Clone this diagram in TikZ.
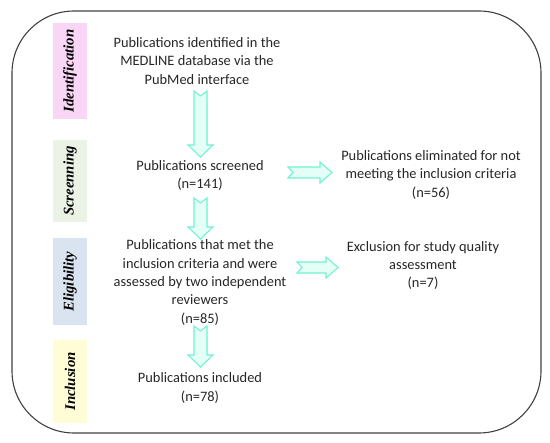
\documentclass[tikz,border=0pt]{standalone}
\usepackage{fontspec}
\setmainfont{Carlito}
\newfontfamily\labfont{Liberation Serif}
\usetikzlibrary{shapes.arrows}
\definecolor{arrfill}{HTML}{E4FFF6}
\definecolor{arrdraw}{HTML}{72F2D2}
\definecolor{pinkc}{HTML}{FAD6F6}
\definecolor{greenc}{HTML}{EBF3E6}
\definecolor{bluec}{HTML}{DAE4F0}
\definecolor{yellowc}{HTML}{FFFCD6}
\definecolor{framec}{HTML}{404040}
\tikzset{
  txt/.style={align=center, font=\fontsize{14.4}{18.3}\selectfont, text=black!85, inner sep=0pt},
  phaselab/.style={rotate=90, font=\labfont\bfseries\itshape\fontsize{14.8}{15}\selectfont},
  flowarrow/.style={fill=arrfill, draw=arrdraw, line width=1.1pt, line join=miter}
}
\begin{document}
\begin{tikzpicture}[x=1pt,y=-1pt]
\useasboundingbox (0,0) rectangle (550,443);
% frame
\draw[framec, line width=1.1pt, rounded corners=62pt] (12,11) rectangle (541,433);
% phase boxes
\fill[pinkc] (53,23) rectangle (87,119);
\node[phaselab] (lid) at (70,71) {Identification};
\fill[greenc] (53,140) rectangle (87,222);
\node[phaselab] (lsc) at (70,181) {Screenning};
\fill[bluec] (53,238) rectangle (87,325);
\node[phaselab] (lel) at (70,281.5) {Eligibility};
\fill[yellowc] (53,340) rectangle (87,423);
\node[phaselab] (lin) at (70,381.5) {Inclusion};
% texts
\node[txt] (t1) at (197,61) {Publications identified in the\\MEDLINE database via the\\PubMed interface};
\node[txt] (t2) at (200,175.5) {Publications screened\\(n=141)};
\node[txt] (t3) at (200,282.5) {Publications that met the\\inclusion criteria and were\\assessed by two independent\\reviewers\\(n=85)};
\node[txt] (t4) at (200,388) {Publications included\\(n=78)};
\node[txt] (r1) at (431,175) {Publications eliminated for not\\meeting the inclusion criteria\\(n=56)};
\node[txt] (r2) at (423,265.5) {Exclusion for study quality\\assessment\\(n=7)};
% arrows (notched, drawn as polygons)
\draw[flowarrow] (194,91) -- (200.5,96) -- (207,91) -- (207,145) -- (213,145) -- (200.5,157) -- (188,145) -- (194,145) -- cycle;
\draw[flowarrow] (194,198) -- (200.5,203) -- (207,198) -- (207,227) -- (213,227) -- (200.5,239) -- (188,227) -- (194,227) -- cycle;
\draw[flowarrow] (194,326) -- (200.5,331) -- (207,326) -- (207,355) -- (213,355) -- (200.5,367) -- (188,355) -- (194,355) -- cycle;
\draw[flowarrow] (288,167) -- (293,172.5) -- (288,178) -- (320,178) -- (320,183) -- (332,172.5) -- (320,162) -- (320,167) -- cycle;
\draw[flowarrow] (297,262) -- (302,267.5) -- (297,273) -- (326,273) -- (326,278) -- (338,267.5) -- (326,257) -- (326,262) -- cycle;
\end{tikzpicture}
\end{document}
